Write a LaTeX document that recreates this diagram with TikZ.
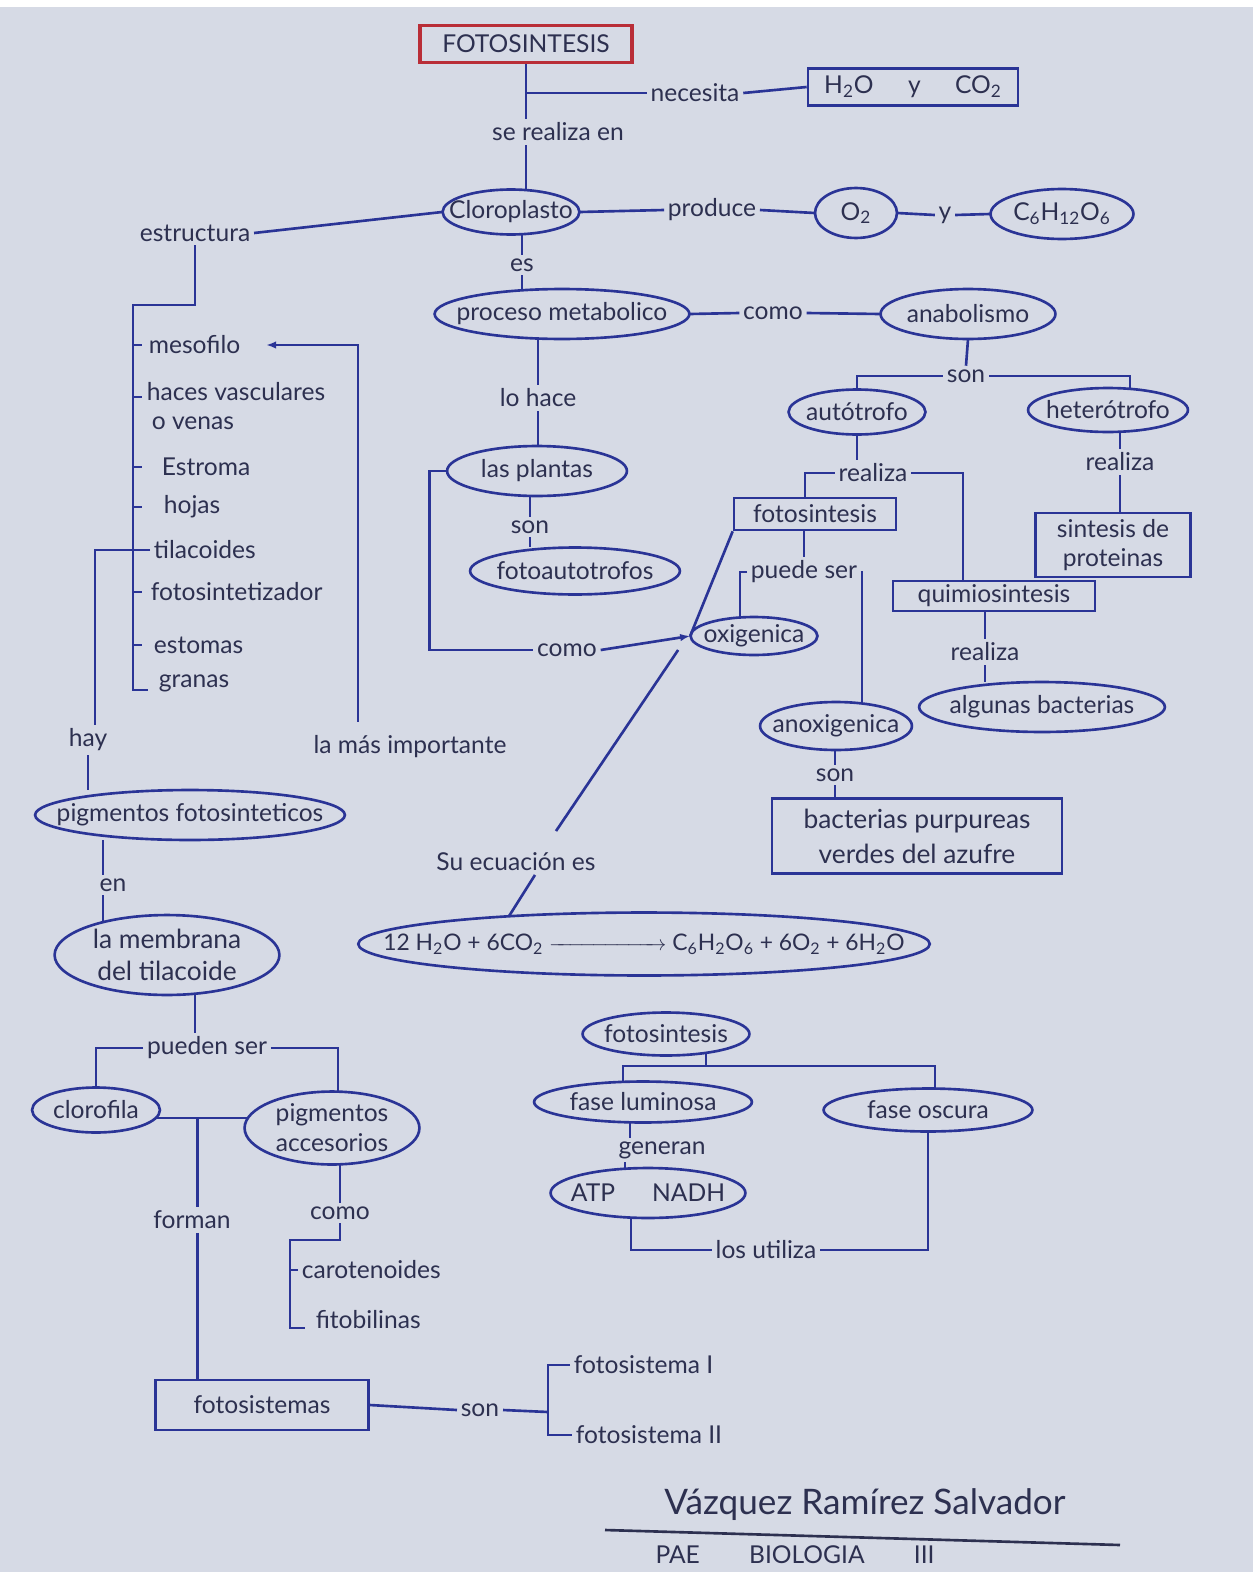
\documentclass[tikz,border=0pt]{standalone}
\usepackage{fontspec}
\usepackage{amsmath}
\setmainfont{Lato}
\usepackage{tikz}
\usetikzlibrary{arrows.meta,positioning,calc}
\definecolor{paper}{RGB}{214,218,229}
\definecolor{ink}{RGB}{42,52,150}
\definecolor{pencil}{RGB}{45,48,80}
\definecolor{redink}{RGB}{185,45,55}
\tikzset{
  handtext/.style={font=\fontsize{14}{17}\selectfont,text=pencil,align=center},
  linkword/.style={handtext,inner sep=2pt},
  link/.style={draw=ink,line width=1.5pt},
  arrowline/.style={link,-{Latex[length=2mm]}},
  ovalline/.style={draw=ink,line width=1.5pt},
  oval/.style 2 args={handtext,inner sep=0pt,minimum width=#1*0.02cm,minimum height=#2*0.02cm,
    append after command={\pgfextra{\draw[ovalline] (\tikzlastnode.center) ellipse [x radius=#1*0.01cm,y radius=#2*0.01cm];}}},
  conceptbox/.style 2 args={handtext,draw=ink,line width=1.5pt,inner sep=2pt,
    minimum width=#1*0.02cm,minimum height=#2*0.02cm},
  titlebox/.style={handtext,draw=redink,line width=1.8pt,minimum width=4.24cm,minimum height=0.74cm},
  listitem/.style={handtext,anchor=west,align=left,inner sep=2pt}
}
\begin{document}
\begin{tikzpicture}[x=0.02cm,y=-0.02cm]
  \fill[paper] (0,0) rectangle (1253,1572);
  \fill[white] (0,0) rectangle (1253,7);
  \useasboundingbox (0,0) rectangle (1253,1572);

  % upper part
  \node[titlebox] (foto) at (526,44) {FOTOSINTESIS};
  \node[linkword] (necesita) at (695,93) {necesita};
  \node[conceptbox={210}{37}] (agua) at (913,87) {H\textsubscript{2}O\hspace{1.4em}y\hspace{1.4em}CO\textsubscript{2}};
  \node[linkword] (serealiza) at (558,132) {se realiza en};
  \node[oval={137}{45}] (cloro) at (511,212) {Cloroplasto};
  \node[linkword] (produce) at (712,210) {produce};
  \node[oval={82}{50}] (otwo) at (856,213) {O\textsubscript{2}};
  \node[linkword] (yy) at (945,215) {y};
  \node[oval={143}{50}] (gluc) at (1062,214) {C\textsubscript{6}H\textsubscript{12}O\textsubscript{6}};
  \node[linkword] (estructura) at (195,233) {estructura};
  \node[linkword] (es) at (522,265) {es};
  \node[oval={255}{50}] (proceso) at (562,314) {proceso metabolico};
  \node[linkword] (como1) at (773,313) {como};
  \node[oval={175}{50}] (anab) at (968,314) {anabolismo};
  \node[linkword] (son1) at (966,376) {son};
  \node[oval={137}{45}] (auto) at (857,412) {autótrofo};
  \node[oval={160}{44}] (hetero) at (1108,410) {heterótrofo};
  \node[linkword] (realiza1) at (873,473) {realiza};
  \node[linkword] (realiza2) at (1120,462) {realiza};
  \node[conceptbox={155}{64}] (proteinas) at (1113,545) {sintesis de\\proteinas};
  \node[conceptbox={162}{32}] (fotobox) at (815,514) {fotosintesis};
  \node[conceptbox={202}{30}] (quimio) at (994,596) {quimiosintesis};
  \node[linkword] (puedeser) at (804,572) {puede ser};
  \node[oval={127}{38}] (oxi) at (754,636) {oxigenica};
  \node[oval={152}{48}] (anoxi) at (836,726) {anoxigenica};
  \node[linkword] (realiza3) at (985,652) {realiza};
  \node[oval={246}{50}] (algunas) at (1042,707) {algunas bacterias};
  \node[linkword] (son2) at (835,775) {son};
  \node[conceptbox={290}{75},font=\fontsize{15}{20}\selectfont] (bacterias) at (917,836) {bacterias purpureas\\verdes del azufre};

  % middle column
  \node[linkword] (lohace) at (538,398) {lo hace};
  \node[oval={180}{50}] (plantas) at (537,471) {las plantas};
  \node[linkword] (son3) at (530,527) {son};
  \node[oval={210}{47}] (fotoauto) at (575,571) {fotoautotrofos};
  \node[linkword] (como2) at (567,650) {como};
  \node[linkword] (suecuacion) at (516,862) {Su ecuación es};
  \node[oval={572}{63},font=\fontsize{13}{16}\selectfont] (ecuacion) at (644,944)
    {12 H\textsubscript{2}O + 6CO\textsubscript{2} $\xrightarrow{\hspace{2.1cm}}$ C\textsubscript{6}H\textsubscript{2}O\textsubscript{6} + 6O\textsubscript{2} + 6H\textsubscript{2}O};

  % left tree
  \node[listitem] (mesofilo) at (145,345) {mesofilo};
  \node[listitem] (haces) at (143,406) {haces vasculares\\\hspace{0.1cm}o venas};
  \node[listitem] (estroma) at (158,467) {Estroma};
  \node[listitem] (hojas) at (160,507) {hojas};
  \node[listitem] (tilacoides) at (150,550) {tilacoides};
  \node[listitem] (fotosintet) at (147,592) {fotosintetizador};
  \node[listitem] (estomas) at (150,645) {estomas};
  \node[listitem] (granas) at (155,683) {granas};
  \node[linkword] (masimportante) at (410,747) {la más importante};
  \node[linkword] (hay) at (88,740) {hay};
  \node[oval={310}{50}] (pigfoto) at (190,815) {pigmentos fotosinteticos};
  \node[linkword] (en) at (113,885) {en};
  \node[oval={225}{80},font=\fontsize{15}{18}\selectfont] (membrana) at (167,955) {la membrana\\del tilacoide};
  \node[linkword] (puedenser) at (207,1048) {pueden ser};
  \node[oval={128}{45}] (clorofila) at (96,1110) {clorofila};
  \node[oval={175}{73}] (pigacc) at (332,1128) {pigmentos\\accesorios};
  \node[linkword] (forman) at (192,1220) {forman};
  \node[linkword] (como3) at (340,1213) {como};
  \node[listitem] (carot) at (298,1270) {carotenoides};
  \node[listitem] (fitob) at (312,1320) {fitobilinas};
  \node[conceptbox={213}{50}] (fotosist) at (262,1405) {fotosistemas};
  \node[linkword] (son4) at (480,1410) {son};
  \node[listitem] (fsone) at (570,1365) {fotosistema I};
  \node[listitem] (fstwo) at (572,1435) {fotosistema II};

  % phases
  \node[oval={167}{43}] (fotosint2) at (666,1034) {fotosintesis};
  \node[oval={218}{41}] (luminosa) at (643,1102) {fase luminosa};
  \node[oval={209}{43}] (oscura) at (928,1110) {fase oscura};
  \node[linkword] (generan) at (662,1150) {generan};
  \node[oval={195}{50}] (atp) at (648,1193) {ATP\hspace{1.5em}NADH};
  \node[linkword] (utiliza) at (766,1250) {los utiliza};

  % signature
  \node[handtext,font=\fontsize{20}{24}\selectfont] (firma) at (865,1505) {Vázquez Ramírez Salvador};
  \node[handtext] (pae) at (795,1555) {PAE\hspace{2em}BIOLOGIA\hspace{2em}III};
  \coordinate (firmaleft) at (605,1530);
  \coordinate (firmaright) at (1120,1545);
  \draw[draw=pencil,line width=1.5pt] (firmaleft) -- (firmaright);

  % connectors, upper part
  \draw[link] (foto.south) -- (foto.south |- serealiza.north);
  \draw[link] (foto.south |- necesita) -- (necesita.west);
  \draw[link] (necesita.east) -- (agua.west);
  \draw[link] (foto.south |- serealiza.south) -- (foto.south |- cloro.north);
  \draw[link] (cloro.east) -- (produce.west);
  \draw[link] (produce.east) -- (otwo.west);
  \draw[link] (otwo.east) -- (yy.west);
  \draw[link] (yy.east) -- (gluc.west);
  \draw[link] (estructura.east) -- (cloro.west);
  \draw[link] (es.north |- cloro.south) -- (es.north);
  \draw[link] (es.south) -- (es.south |- proceso.north);
  \draw[link] (proceso.east) -- (como1.west);
  \draw[link] (como1.east) -- (anab.west);
  \draw[link] (anab.south) -- (son1.north);
  \draw[link] (son1.west) -| (auto.north);
  \draw[link] (son1.east) -| ($(hetero.north)+(22,0)$);
  \draw[link] (auto.south) -- (auto.south |- realiza1.north);
  \draw[link] (realiza1.west) -| ($(fotobox.north)+(-10,0)$);
  \draw[link] (realiza1.east) -| ($(quimio.north)+(-31,0)$);
  \draw[link] (realiza2.north |- hetero.south) -- (realiza2.north);
  \draw[link] (realiza2.south) -- (realiza2.south |- proteinas.north);
  \draw[link] (fotobox.south -| puedeser) -- (puedeser.north);
  \draw[link] (puedeser.west) -| ($(oxi.north)+(-14,0)$);
  \draw[link] (puedeser.east) -| ($(anoxi.north)+(26,0)$);
  \draw[link] (fotobox.south west) -- (oxi.west);
  \draw[link] (quimio.south -| realiza3) -- (realiza3.north);
  \draw[link] (realiza3.south) -- (realiza3.south |- algunas.north);
  \draw[link] (anoxi.south -| son2) -- (son2.north);
  \draw[link] (son2.south) -- (son2.south |- bacterias.north);

  % connectors, middle column
  \draw[link] (proceso.south -| lohace) -- (lohace.north);
  \draw[link] (lohace.south) -- (lohace.south |- plantas.north);
  \draw[link] (plantas.south -| son3) -- (son3.north);
  \draw[link] (son3.south) -- (son3.south |- fotoauto.north);
  \draw[link] (plantas.west) -- ++(-17,0) |- (como2.west);
  \draw[arrowline] (como2.east) -- (oxi.west);
  \draw[link] ($(oxi.west)+(-12,14)$) -- ($(suecuacion.north)+(40,-18)$);
  \draw[link] ($(suecuacion.south)+(19,0)$) -- ($(ecuacion.north)+(-135,4)$);

  % connectors, left tree
  \coordinate (spinetop) at (133,305);
  \coordinate (spinebot) at (133,690);
  \draw[link] (estructura.south) |- (spinetop) -- (spinebot) -- ++(15,0);
  \foreach \entry in {mesofilo,estroma,hojas,fotosintet,estomas}
    \draw[link] (spinetop |- \entry.west) -- ++(9,0);
  \draw[link] ($(spinetop |- haces.west)+(0,-9)$) -- ++(9,0);
  \draw[link] (tilacoides.west) -- ++(-55,0) coordinate (hayline) -- (hayline |- hay.north);
  \draw[link] (hay.south) -- (hay.south |- pigfoto.north);
  \draw[arrowline] ($(masimportante.north)+(-52,-10)$) |- ($(mesofilo.east)+(22,0)$);
  \draw[link] ($(pigfoto.south)+(-87,0)$) -- ($(en.north)+(-10,0)$);
  \draw[link] ($(en.south)+(-10,0)$) -- ($(membrana.north)+(-64,7)$);
  \draw[link] ($(membrana.south)+(28,-1)$) -- ($(puedenser.north)+(-12,0)$);
  \draw[link] (puedenser.west) -| (clorofila.north);
  \draw[link] (puedenser.east) -| ($(pigacc.north)+(6,1)$);
  \draw[link] ($(clorofila.east)+(-4,8)$) -- coordinate[pos=0.45] (formtop) ($(pigacc.west)+(3,-10)$);
  \draw[link] (formtop) -- (formtop |- forman.north);
  \draw[link] (formtop |- forman.south) -- (formtop |- fotosist.north);
  \draw[link] (pigacc.south -| como3) -- (como3.north);
  \coordinate (brk) at (290,1240);
  \draw[link] (como3.south) |- (brk) |- ($(fitob.west)+(-7,8)$);
  \draw[link] (brk |- carot.west) -- (carot.west);
  \draw[link] (fotosist.east) -- (son4.west);
  \coordinate (fsjoin) at (548,1412);
  \draw[link] (son4.east) -- (fsjoin);
  \draw[link] (fsone.west) -| (fsjoin) |- (fstwo.west);

  % connectors, phases
  \draw[link] ($(fotosint2.south)+(40,-2)$) -- ++(0,12) coordinate (fasejoin);
  \draw[link] (fasejoin) -| ($(luminosa.north)+(-20,0)$);
  \draw[link] (fasejoin) -| ($(oscura.north)+(7,0)$);
  \draw[link] ($(luminosa.south)+(-13,0)$) -- ($(generan.north)+(-32,0)$);
  \draw[link] ($(generan.south)+(-37,0)$) -- ($(atp.north)+(-23,1)$);
  \draw[link] ($(atp.south)+(-17,-1)$) |- (utiliza.west);
  \draw[link] (utiliza.east) -| (oscura.south);
\end{tikzpicture}
\end{document}
